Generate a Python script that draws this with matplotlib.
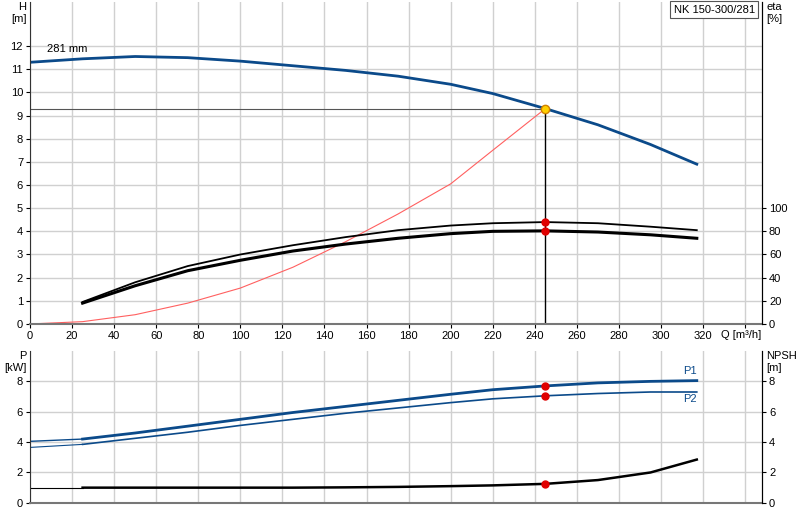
import matplotlib
matplotlib.use("Agg")
import matplotlib.pyplot as plt

plt.rcParams['font.family'] = ['Liberation Sans', 'DejaVu Sans']
plt.rcParams['font.size'] = 8

q = [0, 25, 50, 75, 100, 125, 150, 175, 200, 220, 245, 270, 295, 317]
head = [11.3, 11.45, 11.55, 11.5, 11.35, 11.15, 10.95, 10.7, 10.35, 9.95, 9.3, 8.6, 7.75, 6.9]
q_sys = [0, 25, 50, 75, 100, 125, 150, 175, 200, 220, 245]
h_sys = [0, 0.1, 0.4, 0.9, 1.55, 2.45, 3.55, 4.75, 6.05, 7.5, 9.3]
q_eta = [25, 50, 75, 100, 125, 150, 175, 200, 220, 245, 270, 295, 317]
eta_up = [19, 36, 50, 60, 68, 75, 81, 85, 87, 88, 87, 84, 81]
eta_lo = [18, 33, 46, 55, 63, 69, 74, 78, 80, 80.4, 79.4, 77, 74]
p1 = [4.05, 4.2, 4.6, 5.05, 5.5, 5.95, 6.35, 6.75, 7.15, 7.45, 7.7, 7.9, 8.0, 8.05]
p2 = [3.65, 3.85, 4.25, 4.65, 5.1, 5.5, 5.9, 6.25, 6.6, 6.85, 7.05, 7.2, 7.3, 7.3]
npsh = [1.0, 1.0, 1.0, 1.0, 1.0, 1.0, 1.02, 1.05, 1.1, 1.15, 1.25, 1.5, 2.0, 2.85]
duty_q, duty_h = 245, 9.3
duty_eta = [88, 80.4]
duty_p = [7.7, 7.05]
duty_npsh = 1.25

blue = '#0b4a8a'
fig = plt.figure(figsize=(8, 5.2), dpi=100)
ax = fig.add_axes([0.0375, 0.377, 0.915, 0.619])
ax2 = fig.add_axes([0.0375, 0.033, 0.915, 0.292])

def style(a):
    a.set_xlim(0, 348)
    a.set_xticks(list(range(0, 341, 20)))
    a.grid(True, color='#d0d0d0', lw=1)
    a.set_axisbelow(True)
    a.spines['top'].set_visible(False)
    a.spines['left'].set_color('#333'); a.spines['right'].set_color('#000')
    a.spines['bottom'].set_color('#777'); a.spines['bottom'].set_linewidth(1.5)
    a.tick_params(length=3, pad=2)

style(ax)
ax.set_ylim(0, 13.9)
ax.set_yticks(range(0, 13))
ax.set_xticklabels([str(v) if v <= 320 else '' for v in range(0, 341, 20)])
ax.plot(q, head, color=blue, lw=2)
ax.plot(q_sys, h_sys, color='#ff6060', lw=0.8)
ax.plot([0, duty_q], [duty_h, duty_h], color='#555', lw=0.8)
ax.plot([duty_q, duty_q], [0, duty_h], color='#000', lw=1)
ax.plot([duty_q], [duty_h], 'o', ms=6, mfc='#ffd000', mec='#d08000')
ax.text(8, 11.75, '281 mm', fontsize=8)
ax.text(-0.005, 1.0, 'H\n[m]', transform=ax.transAxes, ha='right', va='top', fontsize=8)
ax.text(1.006, 1.0, 'eta\n[%]', transform=ax.transAxes, ha='left', va='top', fontsize=8)
ax.text(0.944, -0.018, 'Q [m³/h]', transform=ax.transAxes, ha='left', va='top', fontsize=8)
ax.text(0.99, 0.992, 'NK 150-300/281', transform=ax.transAxes, ha='right', va='top', fontsize=8,
        bbox=dict(boxstyle='square,pad=0.3', fc='white', ec='#555', lw=0.8))
axe = ax.twinx()
axe.set_ylim(0, 13.9 * 20)
axe.set_yticks(range(0, 101, 20))
axe.tick_params(length=3, pad=2)
for s in ['top', 'left', 'bottom']:
    axe.spines[s].set_visible(False)
axe.plot(q_eta, eta_up, color='#000', lw=1.3)
axe.plot(q_eta, eta_lo, color='#000', lw=2.2)
axe.plot([duty_q] * 2, duty_eta, 'o', ms=5, color='#e00000')

style(ax2)
ax2.set_ylim(0, 10)
ax2.set_yticks(range(0, 9, 2))
ax2.set_xticklabels([])
ax2.tick_params(axis='x', length=0)
ax2.plot(q[:2], p1[:2], color=blue, lw=1)
ax2.plot(q[1:], p1[1:], color=blue, lw=2)
ax2.plot(q[:2], p2[:2], color=blue, lw=0.8)
ax2.plot(q[1:], p2[1:], color=blue, lw=1.2)
ax2.plot(q[:2], npsh[:2], color='#000', lw=0.8)
ax2.plot(q[1:], npsh[1:], color='#000', lw=1.8)
ax2.plot([duty_q] * 3, duty_p + [duty_npsh], 'o', ms=5, color='#e00000')
ax2.text(317, p1[-1] + 0.3, 'P1', ha='right', va='bottom', color=blue, fontsize=8)
ax2.text(317, p2[-1] - 0.15, 'P2', ha='right', va='top', color=blue, fontsize=8)
ax2.text(-0.005, 1.0, 'P\n[kW]', transform=ax2.transAxes, ha='right', va='top', fontsize=8)
ax2.text(1.006, 1.0, 'NPSH\n[m]', transform=ax2.transAxes, ha='left', va='top', fontsize=8)
axn = ax2.twinx()
axn.set_ylim(0, 10)
axn.set_yticks(range(0, 9, 2))
axn.tick_params(length=3, pad=2)
for s in ['top', 'left', 'bottom']:
    axn.spines[s].set_visible(False)

fig.savefig('out.png')
